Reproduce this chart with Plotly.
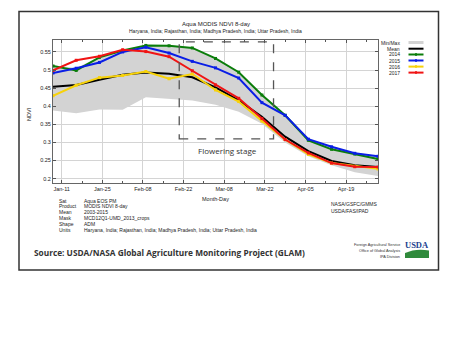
import plotly.graph_objects as go

# ---------------- data ----------------
dates = ["2017-01-08", "2017-01-16", "2017-01-24", "2017-02-01", "2017-02-09",
         "2017-02-17", "2017-02-25", "2017-03-05", "2017-03-13", "2017-03-21",
         "2017-03-29", "2017-04-06", "2017-04-14", "2017-04-22", "2017-04-30"]
ndvi_min = [0.388, 0.381, 0.391, 0.390, 0.425, 0.420, 0.416, 0.404, 0.385, 0.352,
            0.300, 0.262, 0.237, 0.218, 0.207]
ndvi_max = [0.513, 0.506, 0.536, 0.555, 0.569, 0.568, 0.562, 0.533, 0.495, 0.432,
            0.377, 0.310, 0.289, 0.271, 0.263]
ndvi_mean = [0.454, 0.459, 0.473, 0.487, 0.493, 0.490, 0.480, 0.452, 0.416, 0.371,
             0.316, 0.276, 0.249, 0.237, 0.232]
ndvi_2014 = [0.511, 0.499, 0.535, 0.554, 0.568, 0.567, 0.561, 0.532, 0.494, 0.431,
             0.375, 0.306, 0.281, 0.268, 0.254]
ndvi_2015 = [0.492, 0.505, 0.521, 0.550, 0.563, 0.547, 0.524, 0.506, 0.478, 0.410,
             0.375, 0.309, 0.288, 0.270, 0.262]
ndvi_2016 = [0.429, 0.458, 0.479, 0.485, 0.496, 0.476, 0.489, 0.445, 0.413, 0.359,
             0.308, 0.267, 0.243, 0.234, 0.227]
ndvi_2017 = [0.499, 0.527, 0.538, 0.556, 0.551, 0.537, 0.498, 0.459, 0.422, 0.366,
             0.308, 0.271, 0.243, 0.233, 0.232]

x_tick_vals = ["2017-01-11", "2017-01-25", "2017-02-08", "2017-02-22",
               "2017-03-08", "2017-03-22", "2017-04-05", "2017-04-19"]
x_tick_text = ["Jan-11", "Jan-25", "Feb-08", "Feb-22", "Mar-08", "Mar-22", "Apr-05", "Apr-19"]
x_minor_vals = ["2017-01-18", "2017-02-01", "2017-02-15", "2017-03-01",
                "2017-03-15", "2017-03-29", "2017-04-12", "2017-04-26"]
y_tick_vals = [0.2, 0.25, 0.3, 0.35, 0.4, 0.45, 0.5, 0.55]
y_tick_text = ["0.2", "0.25", "0.3", "0.35", "0.4", "0.45", "0.5", "0.55"]

legend_labels = ["Min/Max", "Mean", "2014", "2015", "2016", "2017"]
series_colors = ["#d3d3d3", "#000000", "#0a7d0a", "#0a1ee6", "#f7d20a", "#f01414"]

info_keys = ["Sat", "Product", "Mean", "Mask", "Shape", "Units"]
info_vals = ["Aqua EOS PM", "MODIS NDVI 8-day", "2003-2015", "MCD12Q1-UMD_2013_crops", "ADM",
             "Haryana, India; Rajasthan, India; Madhya Pradesh, India; Uttar Pradesh, India"]

# ---------------- layout geometry ----------------
W, H = 450, 338
L, R, T, B = 53, 72, 40, 155
PW = W - L - R
PH = H - T - B


def px(x):
    return (x - L) / PW


def py(y):
    return (H - B - y) / PH


FONT = "Liberation Sans, Arial, sans-serif"


def note(x, y, text, size=5, anchor="center", color="#222", family=FONT, **kw):
    return dict(x=px(x), y=py(y), xref="paper", yref="paper", text=text, showarrow=False,
                xanchor=anchor, yanchor="middle", font=dict(family=family, size=size, color=color), **kw)


fig = go.Figure()

# Min/Max band
fig.add_trace(go.Scatter(x=dates, y=ndvi_min, mode="lines", line=dict(width=0, color=series_colors[0]),
                         hoverinfo="skip", showlegend=False))
fig.add_trace(go.Scatter(x=dates, y=ndvi_max, mode="lines", line=dict(width=0, color=series_colors[0]),
                         fill="tonexty", fillcolor=series_colors[0], showlegend=False))
# Mean
fig.add_trace(go.Scatter(x=dates, y=ndvi_mean, mode="lines", line=dict(width=2, color=series_colors[1]),
                         showlegend=False))
for vals, col in [(ndvi_2014, series_colors[2]), (ndvi_2015, series_colors[3]),
                  (ndvi_2016, series_colors[4]), (ndvi_2017, series_colors[5])]:
    fig.add_trace(go.Scatter(x=dates, y=vals, mode="lines+markers",
                             line=dict(width=2, color=col),
                             marker=dict(symbol="square", size=3, color=col),
                             showlegend=False))

shapes = []
annotations = []

# flowering stage box
shapes.append(dict(type="rect", xref="x", yref="y", x0="2017-02-20 12:00", x1="2017-03-25",
                   y0=0.31, y1=0.578, line=dict(color="#555555", width=1.3, dash="dash"),
                   layer="above"))
annotations.append(note(227, 150, "Flowering stage", size=8, color="#333333",
                        family="Open Sans, sans-serif"))

# outer frame
shapes.append(dict(type="rect", xref="paper", yref="paper", x0=px(19), x1=px(438.5), y0=py(270), y1=py(11.5),
                   line=dict(color="#333333", width=1.5), layer="below"))

# titles
annotations.append(note(216, 24, "Aqua MODIS NDVI 8-day", size=6))
annotations.append(note(215, 31, "Haryana, India; Rajasthan, India; Madhya Pradesh, India; Uttar Pradesh, India",
                        size=5))
annotations.append(note(29, 114, "NDVI", size=5.5, textangle=-90))
annotations.append(note(215, 199, "Month-Day", size=5.5))

# custom legend
leg_y = [42.5, 48.7, 54.5, 60.5, 66.6, 72.6]
for i, (lab, col) in enumerate(zip(legend_labels, series_colors)):
    yy = py(leg_y[i])
    annotations.append(note(402, leg_y[i], lab, size=5, anchor="right"))
    shapes.append(dict(type="line", xref="paper", yref="paper", x0=px(408.5), x1=px(423.5), y0=yy, y1=yy,
                       line=dict(color=col, width=3 if i == 0 else 2)))
    if i >= 2:
        shapes.append(dict(type="line", xref="paper", yref="paper", x0=px(416), x1=px(416),
                           y0=py(leg_y[i] - 1.5), y1=py(leg_y[i] + 1.5), line=dict(color=col, width=1.5)))

# info block
info_y = [200.7, 206.4, 212, 217.8, 223.6, 229.6]
for i, (k, v) in enumerate(zip(info_keys, info_vals)):
    annotations.append(note(57, info_y[i], k, anchor="left"))
    annotations.append(note(81.5, info_y[i], v, anchor="left"))
annotations.append(note(329, 204.3, "NASA/GSFC/GMMS", anchor="left"))
annotations.append(note(329, 210.5, "USDA/FAS/IPAD", anchor="left"))

# source line
annotations.append(note(31.5, 252.5, "<b>Source: USDA/NASA Global Agriculture Monitoring Project (GLAM)</b>",
                        size=8.3, anchor="left", color="#333333", family="Open Sans, sans-serif"))

# USDA logo block
for txt, yy in [("Foreign Agricultural Service", 244.5), ("Office of Global Analysis", 250.5),
                ("IPA Division", 256.5)]:
    annotations.append(note(402, yy, txt, size=3.8, anchor="right", color="#333"))
annotations.append(note(417, 245, "<b>USDA</b>", size=8.5, color="#1d3f8f", family="Liberation Serif, serif"))
shapes.append(dict(type="path", xref="paper", yref="paper",
                   path=f"M {px(405)} {py(253)} Q {px(416)} {py(248)} {px(429)} {py(250.5)} "
                        f"L {px(429)} {py(258)} L {px(405)} {py(258)} Z",
                   fillcolor="#2f8a3c", line=dict(width=0)))

fig.update_layout(
    width=W, height=H, autosize=False,
    margin=dict(l=L, r=R, t=T, b=B, pad=0),
    paper_bgcolor="white", plot_bgcolor="white",
    shapes=shapes, annotations=annotations, showlegend=False,
    font=dict(family=FONT, size=5.5, color="#222"),
    xaxis=dict(type="date", range=["2017-01-08", "2017-04-30"], tickvals=x_tick_vals, ticktext=x_tick_text,
               showgrid=True, gridcolor="#d4d4d4", gridwidth=1, ticks="inside", ticklen=3,
               tickcolor="#555", showline=True, linecolor="#666", linewidth=1, mirror="allticks",
               tickfont=dict(size=5.5), zeroline=False,
               minor=dict(tickvals=x_minor_vals, ticks="inside", ticklen=2, tickcolor="#555", showgrid=False)),
    yaxis=dict(range=[0.188, 0.583], tickvals=y_tick_vals, ticktext=y_tick_text,
               showgrid=True, gridcolor="#d4d4d4", gridwidth=1, ticks="inside", ticklen=3,
               tickcolor="#555", showline=True, linecolor="#666", linewidth=1, mirror="allticks",
               tickfont=dict(size=5.5), zeroline=False),
)

fig.write_html("out.html")
